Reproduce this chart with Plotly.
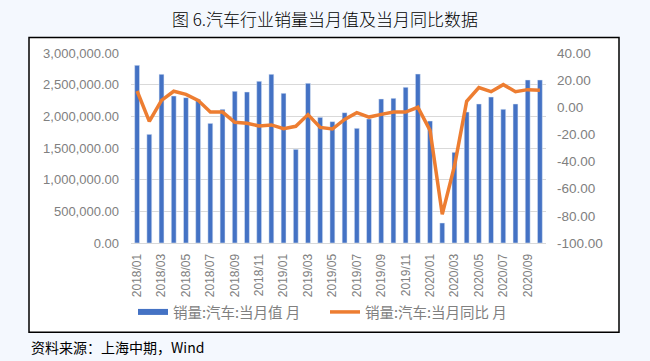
import plotly.graph_objects as go

months = [f"{y}/{m:02d}" for y in (2018, 2019) for m in range(1, 13)] + [f"2020/{m:02d}" for m in range(1, 11)]
sales = [2805000, 1716000, 2663000, 2321000, 2295000, 2268000, 1889000, 2110000, 2395000, 2384000, 2553000, 2663000,
         2363000, 1479000, 2521000, 1984000, 1916000, 2058000, 1811000, 1958000, 2274000, 2284000, 2458000, 2668000,
         1926000, 316000, 1432000, 2068000, 2195000, 2305000, 2111000, 2195000, 2574000, 2574000]
yoy = [12.0, -10.4, 5.1, 11.8, 9.5, 5.1, -3.5, -3.5, -11.1, -11.8, -13.8, -13.0,
       -15.8, -14.0, -5.4, -14.8, -16.0, -8.9, -4.0, -7.2, -5.2, -3.5, -3.5, 0.0,
       -17.0, -78.9, -43.3, 4.4, 14.5, 11.5, 16.7, 11.5, 13.0, 12.5]
x_ticks = months[::2]
left_ticks = [0, 500000, 1000000, 1500000, 2000000, 2500000, 3000000]
left_text = ["0.00", "500,000.00", "1,000,000.00", "1,500,000.00", "2,000,000.00", "2,500,000.00", "3,000,000.00"]
right_ticks = [40, 20, 0, -20, -40, -60, -80, -100]
right_text = ["40.00", "20.00", "0.00", "-20.00", "-40.00", "-60.00", "-80.00", "-100.00"]
name_bar = "销量:汽车:当月值 月"
name_line = "销量:汽车:当月同比 月"
title = "图 6.汽车行业销量当月值及当月同比数据"
source = "资料来源：上海中期，Wind"

BLUE = "#4472C4"
ORANGE = "#ED7D31"
GRAY = "#808080"
PAGE = "#F4F8FE"
FONT = "Liberation Sans, Noto Sans CJK SC"

fig = go.Figure()
fig.add_trace(go.Bar(x=months, y=sales, marker_color=BLUE, name=name_bar, showlegend=False, yaxis="y"))
fig.add_trace(go.Scatter(x=[None], y=[None], mode="lines", line=dict(color=BLUE, width=6), name=name_bar,
                         yaxis="y", legend="legend"))
fig.add_trace(go.Scatter(x=months, y=yoy, mode="lines", line=dict(color=ORANGE, width=3.5), name=name_line,
                         yaxis="y2", legend="legend2"))

L, R, T, B = 131, 104, 52.7, 118.3
H = 361 - T - B
W = 650 - L - R

def px_x(p):
    return (p - L) / W

def px_y(p):
    return (361 - B - p) / H

leg_common = dict(orientation="h", xanchor="left", y=px_y(311.7), yanchor="middle",
                  font=dict(size=14.5, color=GRAY, family="Noto Sans CJK SC"), bgcolor="rgba(0,0,0,0)",
                  itemwidth=30)

fig.update_layout(
    width=650, height=361,
    margin=dict(l=L, r=R, t=T, b=B, autoexpand=False),
    paper_bgcolor=PAGE,
    plot_bgcolor="rgba(0,0,0,0)",
    bargap=0.6,
    font=dict(family=FONT, color=GRAY),
    title=dict(text=title, x=0.5, xanchor="center", y=1 - 20 / 361, yanchor="middle",
               font=dict(family="Noto Sans CJK SC", size=17, color="#000000", weight=300)),
    xaxis=dict(type="category", categoryorder="array", categoryarray=months,
               tickvals=x_ticks, ticktext=x_ticks, tickangle=-90,
               tickfont=dict(size=12, color=GRAY), showgrid=False,
               showline=True, linecolor="#D9D9D9", linewidth=1, ticks="", ticklabelstandoff=5),
    yaxis=dict(range=[0, 3000000], tickvals=left_ticks, ticktext=left_text,
               tickfont=dict(size=13, color=GRAY), showgrid=True, gridcolor="#D9D9D9", gridwidth=1,
               zeroline=False, showline=False, ticks="", ticklabelstandoff=11),
    yaxis2=dict(range=[-100, 40], tickvals=right_ticks, ticktext=right_text, overlaying="y", side="right",
                tickfont=dict(size=13.5, color=GRAY), showgrid=False, zeroline=False, showline=False,
                ticks="", ticklabelstandoff=10),
    legend=dict(x=px_x(133), **leg_common),
    legend2=dict(x=px_x(325), **leg_common),
    shapes=[dict(type="rect", xref="paper", yref="paper", x0=px_x(29), x1=px_x(619), y0=px_y(332), y1=px_y(37.3),
                 fillcolor="#FFFFFF", line=dict(color="#000000", width=1.5), layer="below")],
    annotations=[dict(text=source, xref="paper", yref="paper", x=px_x(29), xanchor="left", y=px_y(347),
                      yanchor="middle", showarrow=False, font=dict(size=14, color="#000000", family="Noto Sans CJK SC"))],
)

fig.write_html("out.html", config={"displayModeBar": False},
               post_script=f"document.body.style.margin='0';document.body.style.background='{PAGE}';")
